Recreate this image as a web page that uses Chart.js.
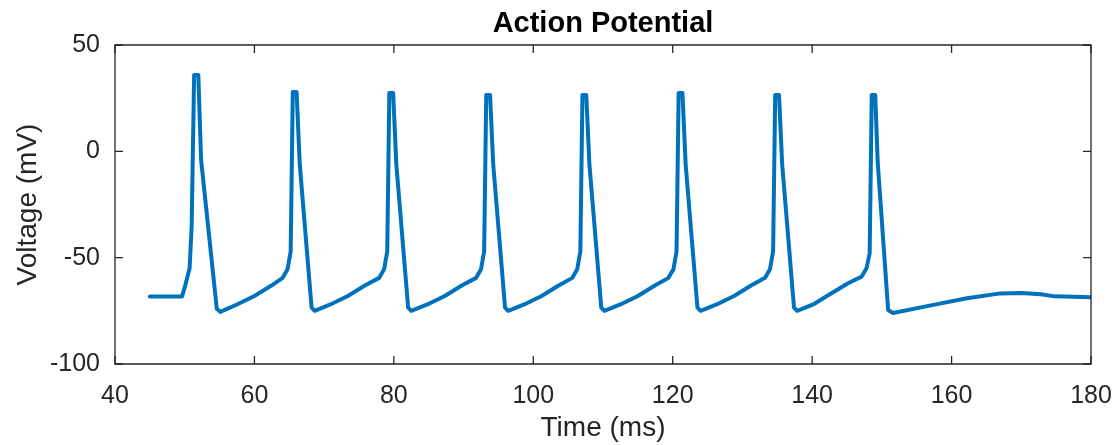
<!DOCTYPE html>
<html>
<head>
<meta charset="utf-8">
<script src="https://cdn.jsdelivr.net/npm/chart.js@4/dist/chart.umd.min.js"></script>
<style>
  html, body { margin: 0; padding: 0; background: #ffffff; }
  #wrap { width: 1116px; height: 445px; }
</style>
</head>
<body>
<div id="wrap"><canvas id="c" width="1116" height="445"></canvas></div>
<script>
// ---- data ----
const timeMs = [
  45.0, 49.6, 50.0, 50.7, 51.0, 51.35, 51.95, 52.35, 54.6, 55.1, 57.5, 60.0, 62.5,
  64.05, 64.75, 65.2, 65.5, 66.05, 66.5, 68.2, 68.65, 70.9, 73.4, 75.9,
  77.9, 78.6, 79.05, 79.35, 79.9, 80.35, 82.05, 82.5, 84.8, 87.3, 89.8,
  91.8, 92.5, 92.95, 93.25, 93.8, 94.25, 95.95, 96.4, 98.7, 101.2, 103.7,
  105.6, 106.3, 106.75, 107.05, 107.6, 108.05, 109.75, 110.2, 112.5, 115.0, 117.5,
  119.4, 120.1, 120.55, 120.85, 121.4, 121.85, 123.55, 124.0, 126.3, 128.8, 131.3,
  133.25, 133.95, 134.4, 134.7, 135.25, 135.7, 137.4, 137.85, 140.15, 142.65, 145.15,
  147.1, 147.8, 148.25, 148.55, 149.05, 149.4, 150.9, 151.6, 157.4, 162.2, 167.0, 170.0, 172.8, 174.8, 180.0
];
const voltageMv = [
  -68.3, -68.3, -64.0, -55.0, -35.0, 35.9, 35.9, -4.0, -74.0, -75.5, -72.0, -68.0, -63.0,
  -59.5, -55.5, -47.0, 27.9, 27.9, -6.0, -73.5, -75.0, -72.0, -68.0, -63.0,
  -59.5, -55.5, -47.0, 27.4, 27.4, -6.0, -73.5, -75.0, -72.0, -68.0, -63.0,
  -59.5, -55.5, -47.0, 26.5, 26.5, -6.0, -73.5, -75.0, -72.0, -68.0, -63.0,
  -59.5, -55.5, -47.0, 26.5, 26.5, -6.0, -73.5, -75.0, -72.0, -68.0, -63.0,
  -59.5, -55.5, -47.0, 27.4, 27.4, -6.0, -73.5, -75.0, -72.0, -68.0, -63.0,
  -59.5, -55.5, -47.0, 26.5, 26.5, -6.0, -73.5, -75.0, -72.0, -67.0, -62.0,
  -58.9, -55.0, -48.0, 26.5, 26.5, -5.0, -74.6, -76.0, -72.2, -69.1, -66.8, -66.6, -67.2, -68.2, -68.6
];
const xTickValues = [40, 60, 80, 100, 120, 140, 160, 180];
const yTickValues = [-100, -50, 0, 50];
const chartTitle = 'Action Potential';
const xAxisTitle = 'Time (ms)';
const yAxisTitle = 'Voltage (mV)';

const points = timeMs.map((t, i) => ({ x: t, y: voltageMv[i] }));

const FONT = '"Liberation Sans", Arial, Helvetica, sans-serif';
const AXIS_COLOR = '#262626';

const boxTicks = {
  id: 'boxTicks',
  afterDatasetsDraw(chart) {
    const { ctx, chartArea, scales } = chart;
    const { left, right, top, bottom } = chartArea;
    const tl = 8;
    ctx.save();
    ctx.strokeStyle = AXIS_COLOR;
    ctx.lineWidth = 1.3;
    ctx.beginPath();
    ctx.rect(left, top, right - left, bottom - top);
    ctx.stroke();
    ctx.beginPath();
    scales.x.ticks.forEach(t => {
      const px = scales.x.getPixelForValue(t.value);
      ctx.moveTo(px, bottom); ctx.lineTo(px, bottom - tl);
      ctx.moveTo(px, top); ctx.lineTo(px, top + tl);
    });
    scales.y.ticks.forEach(t => {
      const py = scales.y.getPixelForValue(t.value);
      ctx.moveTo(left, py); ctx.lineTo(left + tl, py);
      ctx.moveTo(right, py); ctx.lineTo(right - tl, py);
    });
    ctx.stroke();
    ctx.restore();
  }
};

new Chart(document.getElementById('c'), {
  type: 'line',
  data: {
    datasets: [{
      data: points,
      borderColor: '#0072BD',
      borderWidth: 4,
      pointRadius: 0,
      tension: 0,
      fill: false,
      borderJoinStyle: 'round',
      borderCapStyle: 'round'
    }]
  },
  options: {
    responsive: false,
    animation: false,
    devicePixelRatio: 1,
    layout: { padding: { left: 0, right: 25, top: 0, bottom: 0 } },
    plugins: {
      legend: { display: false },
      tooltip: { enabled: false },
      title: {
        display: true,
        fullSize: false,
        text: chartTitle,
        color: '#000000',
        font: { family: FONT, size: 29, weight: 'bold', lineHeight: 1 },
        padding: { top: 9, bottom: 7 }
      }
    },
    scales: {
      x: {
        type: 'linear',
        min: 40, max: 180,
        afterBuildTicks: s => { s.ticks = xTickValues.map(v => ({ value: v })); },
        afterFit: s => { s.height = 81; s.paddingLeft = 0; s.paddingRight = 0; },
        grid: { display: false, drawTicks: false },
        border: { display: false },
        ticks: {
          color: AXIS_COLOR,
          font: { family: FONT, size: 25 },
          padding: 17,
          maxRotation: 0,
          autoSkip: false
        },
        title: {
          display: true,
          text: xAxisTitle,
          color: AXIS_COLOR,
          font: { family: FONT, size: 28, lineHeight: 1 },
          padding: { top: 0, bottom: 3 }
        }
      },
      y: {
        type: 'linear',
        min: -100, max: 50,
        afterBuildTicks: s => { s.ticks = yTickValues.map(v => ({ value: v })); },
        afterFit: s => { s.width = 115; s.paddingTop = 0; s.paddingBottom = 0; },
        grid: { display: false, drawTicks: false },
        border: { display: false },
        ticks: {
          color: AXIS_COLOR,
          font: { family: FONT, size: 25 },
          padding: 15,
          autoSkip: false
        },
        title: {
          display: true,
          text: yAxisTitle,
          color: AXIS_COLOR,
          font: { family: FONT, size: 28, lineHeight: 1 },
          padding: { top: 14, bottom: 0 }
        }
      }
    }
  },
  plugins: [boxTicks]
});
</script>
</body>
</html>
